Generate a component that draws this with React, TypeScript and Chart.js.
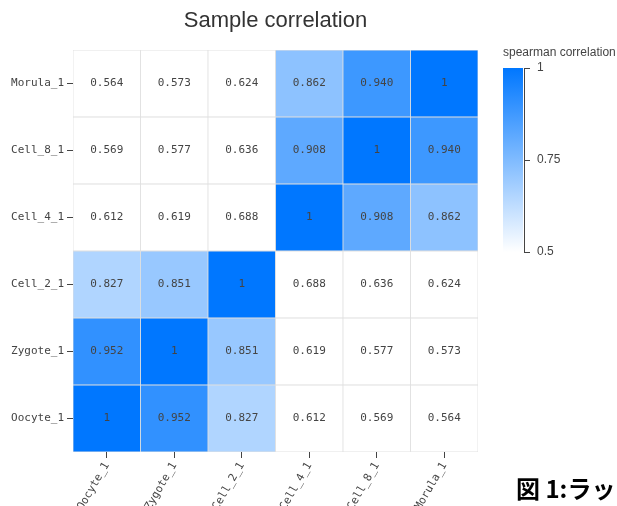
import React, { useEffect, useRef } from "react";
import { Chart, registerables } from "chart.js";

Chart.register(...registerables);

// ---- data ----
const samples = ["Oocyte_1", "Zygote_1", "Cell_2_1", "Cell_4_1", "Cell_8_1", "Morula_1"];
const rowOocyte = [1, 0.952, 0.827, 0.612, 0.569, 0.564];
const rowZygote = [0.952, 1, 0.851, 0.619, 0.577, 0.573];
const rowCell2 = [0.827, 0.851, 1, 0.688, 0.636, 0.624];
const rowCell4 = [0.612, 0.619, 0.688, 1, 0.908, 0.862];
const rowCell8 = [0.569, 0.577, 0.636, 0.908, 1, 0.94];
const rowMorula = [0.564, 0.573, 0.624, 0.862, 0.94, 1];
const matrix = [rowOocyte, rowZygote, rowCell2, rowCell4, rowCell8, rowMorula];
const colorbarTicks = [0.5, 0.75, 1];
const colorbarMin = 0.5;
const colorbarMax = 1;
const titleText = "Sample correlation";
const colorbarTitle = "spearman correlation";
const captionText = "図 1:ラッ";

const MONO = "'DejaVu Sans Mono', monospace";
const SANS = "'Liberation Sans', Arial, sans-serif";

function cellColor(v: number): string {
  const t = Math.max(0, Math.min(1, (v - 0.75) / 0.25));
  const r = Math.round(255 * (1 - t));
  const g = Math.round(255 - 136 * t);
  return `rgb(${r},${g},255)`;
}

function fmt(v: number): string {
  return v === 1 ? "1" : v.toFixed(3);
}

const overlayPlugin = {
  id: "overlay",
  afterDatasetsDraw(chart: any) {
    const ctx = chart.ctx;
    const xs = chart.scales.x;
    const ys = chart.scales.y;
    ctx.save();
    ctx.font = `11px ${MONO}`;
    ctx.fillStyle = "#444";
    ctx.textAlign = "center";
    ctx.textBaseline = "middle";
    matrix.forEach((row, i) => {
      row.forEach((v, j) => {
        ctx.fillText(fmt(v), xs.getPixelForValue(j), ys.getPixelForValue(i + 0.5));
      });
    });
    ctx.restore();
  },
  afterDraw(chart: any) {
    const ctx = chart.ctx;
    const area = chart.chartArea;
    ctx.save();
    // title
    ctx.font = `22px ${SANS}`;
    ctx.fillStyle = "#333";
    ctx.textAlign = "center";
    ctx.textBaseline = "middle";
    ctx.fillText(titleText, (area.left + area.right) / 2, 21);

    // colorbar
    const cbX = 503;
    const cbW = 20;
    const cbTop = 68;
    const cbBottom = 252;
    const yFor = (v: number) =>
      cbBottom - ((v - colorbarMin) / (colorbarMax - colorbarMin)) * (cbBottom - cbTop);
    const grad = ctx.createLinearGradient(0, cbBottom, 0, cbTop);
    grad.addColorStop(0, "#ffffff");
    grad.addColorStop(1, "#0077ff");
    ctx.fillStyle = grad;
    ctx.fillRect(cbX, cbTop, cbW, cbBottom - cbTop);
    ctx.strokeStyle = "#444";
    ctx.lineWidth = 1;
    ctx.beginPath();
    ctx.moveTo(cbX + cbW + 1.5, cbTop);
    ctx.lineTo(cbX + cbW + 1.5, cbBottom);
    colorbarTicks.forEach((t) => {
      const y = Math.round(yFor(t)) + 0.5;
      ctx.moveTo(cbX + cbW + 1, y);
      ctx.lineTo(cbX + cbW + 7, y);
    });
    ctx.stroke();
    ctx.font = `12px ${SANS}`;
    ctx.fillStyle = "#444";
    ctx.textAlign = "left";
    ctx.textBaseline = "middle";
    colorbarTicks.forEach((t) => {
      ctx.fillText(String(t), cbX + cbW + 14, yFor(t));
    });
    ctx.fillText(colorbarTitle, cbX, 53);

    // caption
    ctx.font = `bold 24px 'Noto Sans CJK JP', sans-serif`;
    ctx.fillStyle = "#000";
    ctx.textBaseline = "alphabetic";
    ctx.fillText(captionText, 516, 498);
    ctx.restore();
  },
};

export default function App() {
  const ref = useRef<HTMLCanvasElement | null>(null);
  useEffect(() => {
    document.body.style.margin = "0";
    document.body.style.overflow = "hidden";
    if (!ref.current) return;
    const datasets = matrix.map((row, i) => ({
      label: samples[i],
      data: row.map(() => [i, i + 1]),
      backgroundColor: row.map((v) => cellColor(v)),
      borderColor: "rgba(218,218,218,0.85)",
      borderWidth: 0.75,
      borderSkipped: false,
      grouped: false,
      barPercentage: 1,
      categoryPercentage: 1,
    }));
    const chart = new Chart(ref.current, {
      type: "bar",
      data: { labels: samples, datasets: datasets as any },
      plugins: [overlayPlugin],
      options: {
        animation: false,
        responsive: false,
        events: [],
        layout: { padding: { left: 0, top: 50, right: 139, bottom: 0 } },
        plugins: {
          legend: { display: false },
          title: { display: false },
          tooltip: { enabled: false },
        },
        scales: {
          x: {
            type: "category",
            offset: true,
            border: { display: false },
            grid: {
              offset: false,
              drawOnChartArea: false,
              drawTicks: true,
              tickLength: 6,
              color: "#444",
            },
            ticks: {
              autoSkip: false,
              minRotation: 60,
              maxRotation: 60,
              color: "#444",
              font: { family: MONO, size: 11 },
              padding: 2,
            },
            afterFit(axis: any) {
              axis.height = 54;
            },
          },
          y: {
            type: "linear",
            min: 0,
            max: 6,
            border: { display: false },
            grid: {
              drawOnChartArea: false,
              drawTicks: true,
              tickLength: 6,
              color: "#444",
            },
            ticks: {
              autoSkip: false,
              color: "#444",
              font: { family: MONO, size: 11 },
              padding: 3,
              callback: (_v: any, idx: number) => samples[idx],
            },
            afterBuildTicks(axis: any) {
              axis.ticks = samples.map((_, i) => ({ value: i + 0.5 }));
            },
            afterFit(axis: any) {
              axis.width = 73;
            },
          },
        },
      } as any,
    });
    return () => chart.destroy();
  }, []);
  return (
    <div style={{ width: 617, height: 506, position: "relative", overflow: "hidden" }}>
      <canvas ref={ref} width={617} height={506} style={{ display: "block" }} />
    </div>
  );
}
